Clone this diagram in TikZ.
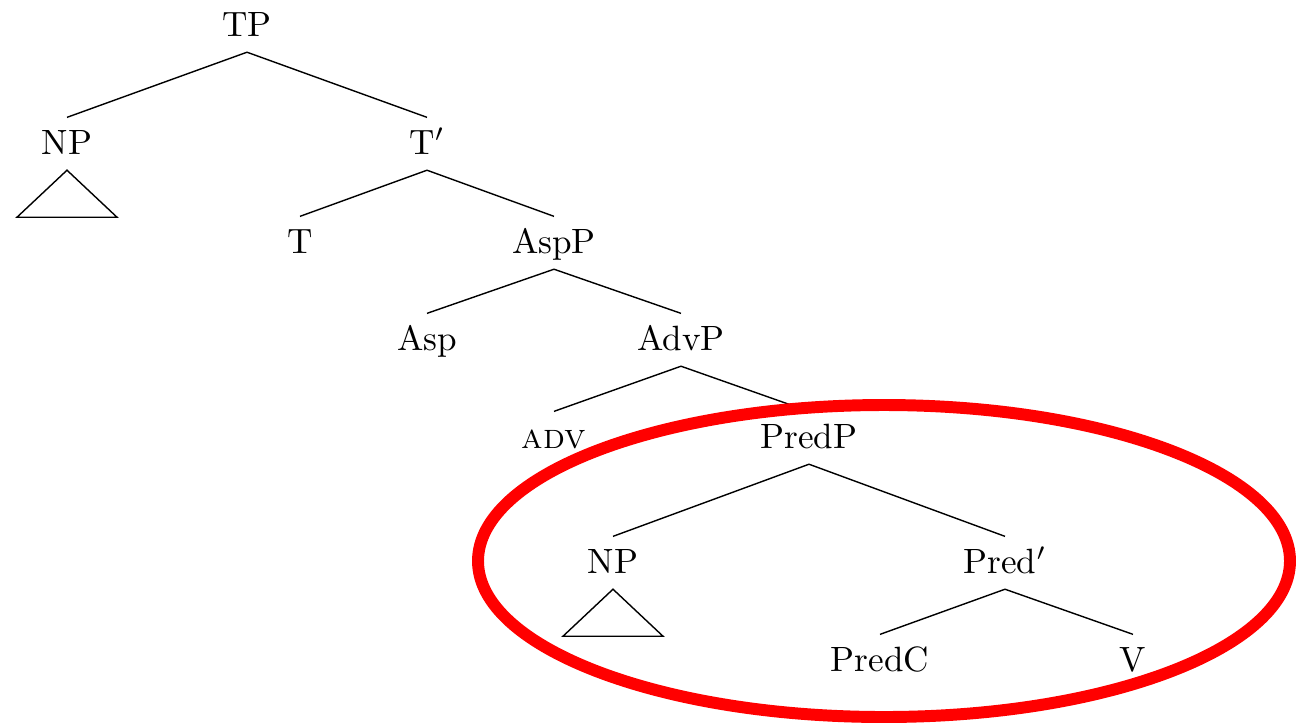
\documentclass[tikz,border=0pt]{standalone}
\usepackage{xcolor}
\usepackage{tikz}

\begin{document}
\begin{tikzpicture}[cat/.style={anchor=base, text height=1.6ex, text depth=.25ex}, branch/.style={line width=0.4pt}]
\useasboundingbox (0,0) rectangle (12.96,-7.24);

\node[cat] (tp) at (2.47,-0.36) {TP};

\node[cat] (np_0) at (0.67,-1.54) {NP};
\node[cat] (tbar) at (4.27,-1.54) {T$'$};

\node[cat] (t) at (3.00,-2.53) {T};
\node[cat] (aspp) at (5.54,-2.53) {AspP};

\node[cat] (asp) at (4.27,-3.50) {Asp};
\node[cat] (advp) at (6.81,-3.50) {AdvP};

\node[cat] (adv) at (5.54,-4.48) {\textsc{adv}};
\node[cat] (predp) at (8.09,-4.48) {PredP};

\node[cat] (np_1) at (6.13,-5.73) {NP};
\node[cat] (predbar) at (10.05,-5.73) {Pred$'$};

\node[cat] (predc) at (8.80,-6.71) {PredC};
\node[cat] (v) at (11.33,-6.71) {V};

\draw[branch] (tp.south) -- (np_0.north);
\draw[branch] (tp.south) -- (tbar.north);
\draw[branch] (tbar.south) -- (t.north);
\draw[branch] (tbar.south) -- (aspp.north);
\draw[branch] (aspp.south) -- (asp.north);
\draw[branch] (aspp.south) -- (advp.north);
\draw[branch] (advp.south) -- (adv.north);
\draw[branch] (advp.south) -- (predp.north);
\draw[branch] (predp.south) -- (np_1.north);
\draw[branch] (predp.south) -- (predbar.north);
\draw[branch] (predbar.south) -- (predc.north);
\draw[branch] (predbar.south) -- (v.north);

% roofs over the two NPs
\draw[branch] (np_0.south) -- ++(-0.50,-0.47) -- ++(1.00,0) -- cycle;
\draw[branch] (np_1.south) -- ++(-0.50,-0.47) -- ++(1.00,0) -- cycle;

% ring round the PredP part
\draw[red, line width=3.4pt] (8.84,-5.61) ellipse (4.06 and 1.56);

\end{tikzpicture}
\end{document}
